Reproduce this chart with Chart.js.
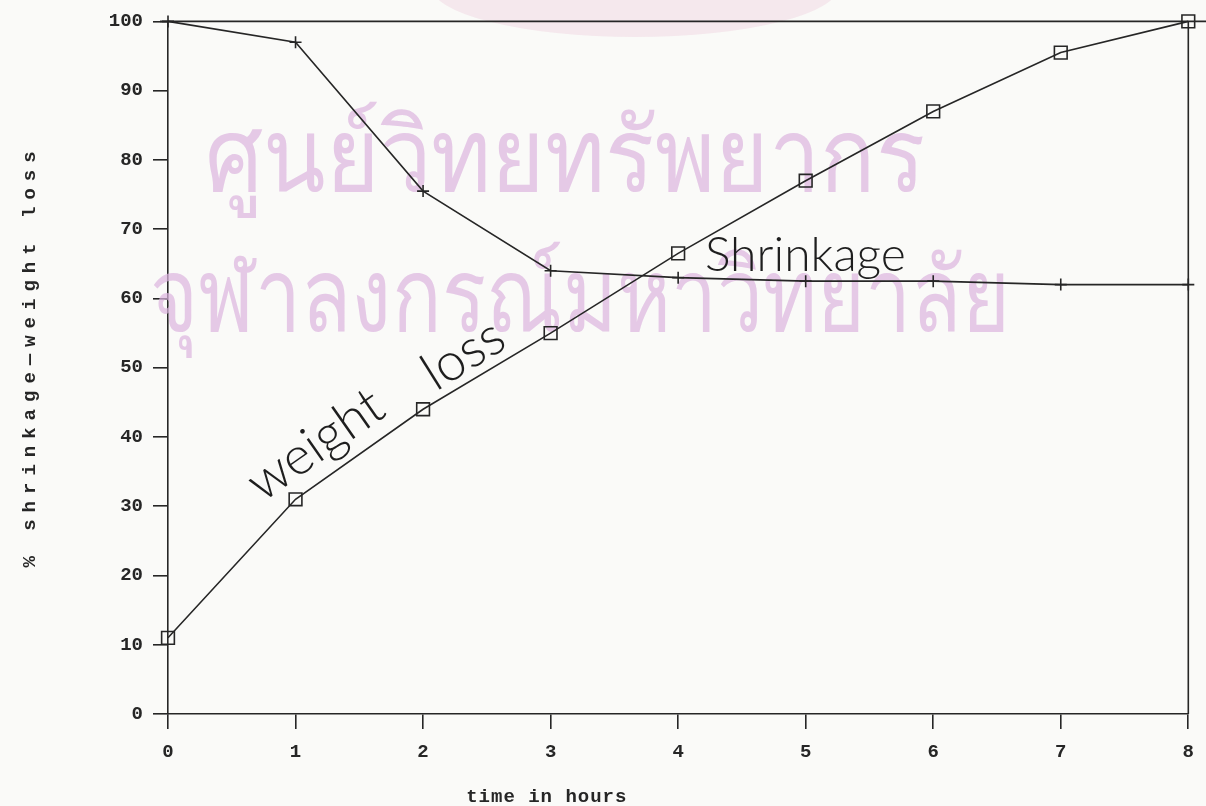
<!DOCTYPE html>
<html>
<head>
<meta charset="utf-8">
<script src="https://cdn.jsdelivr.net/npm/chart.js@4.4.1/dist/chart.umd.min.js"></script>
<style>
  html, body { margin: 0; padding: 0; background: #fafaf8; }
  #wrap { width: 1206px; height: 806px; }
</style>
</head>
<body>
<div id="wrap"><canvas id="c" width="1206" height="806"></canvas></div>
<script>
// values
const hours = [0, 1, 2, 3, 4, 5, 6, 7, 8];
const shrinkage = [100, 97, 75.5, 64, 63, 62.5, 62.5, 62, 62];
const weightLoss = [11, 31, 44, 55, 66.5, 77, 87, 95.5, 100];
const xTickLabels = ['0', '1', '2', '3', '4', '5', '6', '7', '8'];
const yTickLabels = ['0', '10', '20', '30', '40', '50', '60', '70', '80', '90', '100'];

const ink = '#262626';
const tickFont = { family: 'Liberation Mono', size: 19, weight: 'bold' };

function toPoints(ys) {
    return hours.map((h, i) => ({ x: h, y: ys[i] }));
}

// draw a line of text squeezed/stretched to a given width
function fitText(ctx, text, cx, baseline, width) {
    const w = ctx.measureText(text).width;
    ctx.save();
    ctx.translate(cx, baseline);
    ctx.scale(width / w, 1);
    ctx.fillText(text, 0, 0);
    ctx.restore();
}

// scanned background: watermark, frame, hand-lettered labels
const paperPlugin = {
    id: 'paper',
    beforeDatasetsDraw(chart) {
        const ctx = chart.ctx;
        ctx.save();
        // faint stamp at the top
        ctx.fillStyle = 'rgba(238, 206, 220, 0.4)';
        ctx.beginPath();
        ctx.ellipse(635, -15, 205, 52, 0, 0, Math.PI * 2);
        ctx.fill();
        // watermark text
        ctx.fillStyle = 'rgba(220, 180, 222, 0.7)';
        ctx.textAlign = 'center';
        ctx.textBaseline = 'alphabetic';
        ctx.font = '102px "Noto Sans", "DejaVu Sans", sans-serif';
        fitText(ctx, 'ศูนย์วิทยทรัพยากร', 565, 191, 720);
        fitText(ctx, 'จุฬาลงกรณ์มหาวิทยาลัย', 580, 331, 860);
        ctx.restore();
    },
    afterDraw(chart) {
        const ctx = chart.ctx;
        const a = chart.chartArea;
        const xs = chart.scales.x;
        const ys = chart.scales.y;
        ctx.save();
        // top and right sides of the frame
        ctx.strokeStyle = ink;
        ctx.lineWidth = 1.6;
        ctx.beginPath();
        ctx.moveTo(a.left - 8, a.top);
        ctx.lineTo(chart.width, a.top);
        ctx.moveTo(a.right, a.top);
        ctx.lineTo(a.right, a.bottom);
        ctx.stroke();

        // axis titles
        ctx.fillStyle = ink;
        ctx.font = 'bold 19px "Liberation Mono", monospace';
        ctx.letterSpacing = '1px';
        ctx.textAlign = 'center';
        ctx.textBaseline = 'middle';
        ctx.fillText('time in hours', xs.getPixelForValue(2.97), 797);
        ctx.save();
        ctx.translate(30, 356);
        ctx.rotate(-Math.PI / 2);
        ctx.letterSpacing = '7px';
        ctx.fillText('% shrinkage\u2014weight loss', 0, 0);
        ctx.restore();

        // hand-lettered curve labels
        ctx.letterSpacing = '0px';
        ctx.font = '300 48px Lato, "Open Sans", sans-serif';
        ctx.textAlign = 'left';
        ctx.textBaseline = 'alphabetic';
        ctx.fillStyle = '#1e1e1e';
        ctx.fillText('Shrinkage', xs.getPixelForValue(4.21), ys.getPixelForValue(64));
        ctx.font = '300 53px Lato, "Open Sans", sans-serif';
        ctx.save();
        ctx.translate(xs.getPixelForValue(0.74), ys.getPixelForValue(30.5));
        ctx.rotate(-35 * Math.PI / 180);
        ctx.fillText('weight', 0, 0);
        ctx.restore();
        ctx.save();
        ctx.translate(xs.getPixelForValue(2.1), ys.getPixelForValue(46.5));
        ctx.rotate(-32 * Math.PI / 180);
        ctx.fillText('loss', 0, 0);
        ctx.restore();
        ctx.restore();
    }
};

new Chart(document.getElementById('c'), {
    type: 'line',
    data: {
        datasets: [
            {
                label: 'shrinkage',
                data: toPoints(shrinkage),
                borderColor: ink,
                borderWidth: 1.6,
                pointStyle: 'cross',
                pointRadius: 6,
                pointBorderColor: ink,
                pointBorderWidth: 1.6,
                tension: 0,
                clip: false
            },
            {
                label: 'weight loss',
                data: toPoints(weightLoss),
                borderColor: ink,
                borderWidth: 1.6,
                pointStyle: 'rect',
                pointRadius: 9,
                pointBackgroundColor: 'rgba(250,250,248,0)',
                pointBorderColor: ink,
                pointBorderWidth: 1.6,
                tension: 0,
                clip: false
            }
        ]
    },
    options: {
        responsive: false,
        animation: false,
        events: [],
        layout: { padding: { top: 21, right: 17, left: 0, bottom: 0 } },
        plugins: {
            legend: { display: false },
            tooltip: { enabled: false }
        },
        scales: {
            x: {
                type: 'linear',
                min: 0,
                max: 8,
                afterFit: s => { s.height = 92; },
                border: { display: true, color: ink, width: 1.6 },
                grid: { drawOnChartArea: false, drawTicks: true, tickLength: 15, color: ink, lineWidth: 1.6 },
                ticks: {
                    stepSize: 1,
                    padding: 12,
                    color: ink,
                    font: tickFont,
                    callback: v => xTickLabels[v]
                }
            },
            y: {
                type: 'linear',
                min: 0,
                max: 100,
                afterFit: s => { s.width = 168; },
                border: { display: true, color: ink, width: 1.6 },
                grid: { drawOnChartArea: false, drawTicks: true, tickLength: 15, color: ink, lineWidth: 1.6 },
                ticks: {
                    stepSize: 10,
                    padding: 10,
                    color: ink,
                    font: tickFont,
                    callback: v => yTickLabels[v / 10]
                }
            }
        }
    },
    plugins: [paperPlugin]
});
</script>
</body>
</html>
